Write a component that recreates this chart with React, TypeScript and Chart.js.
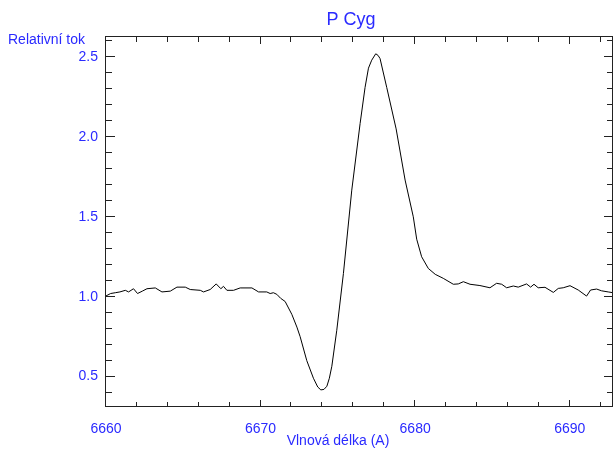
import React, { useEffect, useRef } from "react";
import { Chart, registerables } from "chart.js";

Chart.register(...registerables);

const wavelengths = [
  6660.0, 6660.3, 6660.6, 6660.9, 6661.25, 6661.46, 6661.78, 6662.04, 6662.35, 6662.65,
  6663.19, 6663.62, 6664.16, 6664.59, 6665.13, 6665.45, 6666.1, 6666.31, 6666.74, 6667.13,
  6667.43, 6667.6, 6667.82, 6668.25, 6668.68, 6669.44, 6669.87, 6670.4, 6670.62, 6670.83,
  6671.05, 6671.3, 6671.59, 6672.02, 6672.35, 6672.56, 6672.99, 6673.42, 6673.7, 6673.9,
  6674.1, 6674.29, 6674.45, 6674.61, 6674.93, 6675.36, 6675.9, 6676.44, 6676.76, 6676.98,
  6677.19, 6677.45, 6677.6, 6677.73, 6678.16, 6678.77, 6679.35, 6679.88, 6680.1, 6680.42,
  6680.85, 6681.3, 6681.82, 6682.47, 6682.79, 6683.12, 6683.55, 6684.19, 6684.84, 6685.27,
  6685.6, 6685.92, 6686.35, 6686.67, 6687.21, 6687.47, 6687.69, 6687.96, 6688.4, 6688.94,
  6689.26, 6689.58, 6690.02, 6690.55, 6691.09, 6691.35, 6691.74, 6692.06, 6692.49, 6692.81,
];

const flux = [
  1.005, 1.02, 1.025, 1.03, 1.04, 1.03, 1.05, 1.02, 1.035, 1.05,
  1.055, 1.03, 1.035, 1.06, 1.06, 1.045, 1.04, 1.03, 1.045, 1.08,
  1.05, 1.065, 1.04, 1.04, 1.055, 1.055, 1.03, 1.03, 1.02, 1.025,
  1.015, 0.99, 0.97, 0.89, 0.81, 0.75, 0.6, 0.49, 0.435, 0.417,
  0.42, 0.44, 0.49, 0.565, 0.79, 1.146, 1.667, 2.084, 2.31, 2.43,
  2.48, 2.52, 2.51, 2.49, 2.31, 2.05, 1.73, 1.5, 1.36, 1.25,
  1.177, 1.14, 1.115, 1.078, 1.08, 1.094, 1.078, 1.07, 1.056, 1.084,
  1.078, 1.056, 1.067, 1.06, 1.08, 1.06, 1.078, 1.056, 1.059, 1.027,
  1.052, 1.056, 1.069, 1.042, 1.004, 1.042, 1.048, 1.037, 1.03, 1.025,
];

const xTicks = [6660, 6670, 6680, 6690];
const yTicks = [0.5, 1.0, 1.5, 2.0, 2.5];
const xMinorStep = 2;
const yMinorStep = 0.1;

const titleText = "P Cyg";
const xTitleText = "Vlnová délka (A)";
const yTitleText = "Relativní tok";

const BLUE = "#2a2aff";
const FONT = "'Liberation Sans', Arial, Helvetica, sans-serif";

const framePlugin = {
  id: "frameAndText",
  afterDraw(chart: any) {
    const ctx = chart.ctx as CanvasRenderingContext2D;
    const { left, right, top, bottom } = chart.chartArea;
    const xs = chart.scales.x;
    const ys = chart.scales.y;
    ctx.save();
    ctx.strokeStyle = "#222";
    ctx.lineWidth = 1;
    ctx.strokeRect(left - 0.5, top - 0.5, right - left, bottom - top);

    ctx.beginPath();
    const xStart = Math.ceil(xs.min / xMinorStep) * xMinorStep;
    for (let v = xStart; v <= xs.max + 1e-9; v += xMinorStep) {
      const px = Math.round(xs.getPixelForValue(v)) - 0.5;
      const major = Math.abs(v % 10) < 1e-6;
      const len = major ? 7 : 5;
      ctx.moveTo(px, bottom);
      ctx.lineTo(px, bottom - len);
      ctx.moveTo(px, top);
      ctx.lineTo(px, top + len);
    }
    const yStart = Math.ceil(ys.min / yMinorStep - 1e-6) * yMinorStep;
    for (let i = 0; ; i++) {
      const v = yStart + i * yMinorStep;
      if (v > ys.max + 1e-9) break;
      const py = Math.round(ys.getPixelForValue(v)) - 0.5;
      const r = Math.round(v * 10);
      const major = r % 5 === 0;
      const len = major ? 9 : 6;
      ctx.moveTo(left, py);
      ctx.lineTo(left + len, py);
      ctx.moveTo(right, py);
      ctx.lineTo(right - len, py);
    }
    ctx.stroke();

    ctx.fillStyle = BLUE;
    ctx.textBaseline = "middle";
    ctx.font = `18px ${FONT}`;
    ctx.textAlign = "center";
    ctx.fillText(titleText, 351, 20);
    ctx.font = `14px ${FONT}`;
    ctx.textAlign = "left";
    ctx.fillText(yTitleText, 8, 40);
    ctx.textAlign = "center";
    ctx.fillText(xTitleText, 338, 441);
    ctx.restore();
  },
};

export default function App() {
  const canvasRef = useRef<HTMLCanvasElement | null>(null);

  useEffect(() => {
    document.body.style.margin = "0";
    const canvas = canvasRef.current;
    if (!canvas) return;
    const points = wavelengths.map((x, i) => ({ x, y: flux[i] }));
    const chart = new Chart(canvas, {
      type: "line",
      data: {
        datasets: [
          {
            data: points,
            borderColor: "#000",
            borderWidth: 1,
            pointRadius: 0,
            tension: 0,
            fill: false,
          },
        ],
      },
      options: {
        responsive: false,
        animation: false,
        layout: { padding: { top: 37, right: 1, left: 0, bottom: 0 } },
        plugins: {
          legend: { display: false },
          title: { display: false },
          tooltip: { enabled: false },
        },
        scales: {
          x: {
            type: "linear",
            min: 6660,
            max: 6692.8,
            grid: { display: false, drawTicks: false },
            border: { display: false },
            afterBuildTicks: (scale: any) => {
              scale.ticks = xTicks.map((value) => ({ value }));
            },
            afterFit: (scale: any) => {
              scale.height = 42;
            },
            ticks: {
              color: BLUE,
              font: { family: FONT, size: 14 },
              padding: 14,
              maxRotation: 0,
              autoSkip: false,
              callback: (v: any) => String(v),
            },
          },
          y: {
            type: "linear",
            min: 0.31,
            max: 2.625,
            grid: { display: false, drawTicks: false },
            border: { display: false },
            afterBuildTicks: (scale: any) => {
              scale.ticks = yTicks.map((value) => ({ value }));
            },
            afterFit: (scale: any) => {
              scale.width = 106;
            },
            ticks: {
              color: BLUE,
              font: { family: FONT, size: 14 },
              padding: 8,
              autoSkip: false,
              callback: (v: any) => Number(v).toFixed(1),
            },
          },
        },
      },
      plugins: [framePlugin],
    });
    return () => chart.destroy();
  }, []);

  return (
    <div style={{ width: 614, height: 449 }}>
      <canvas ref={canvasRef} width={614} height={449} style={{ display: "block" }} />
    </div>
  );
}
